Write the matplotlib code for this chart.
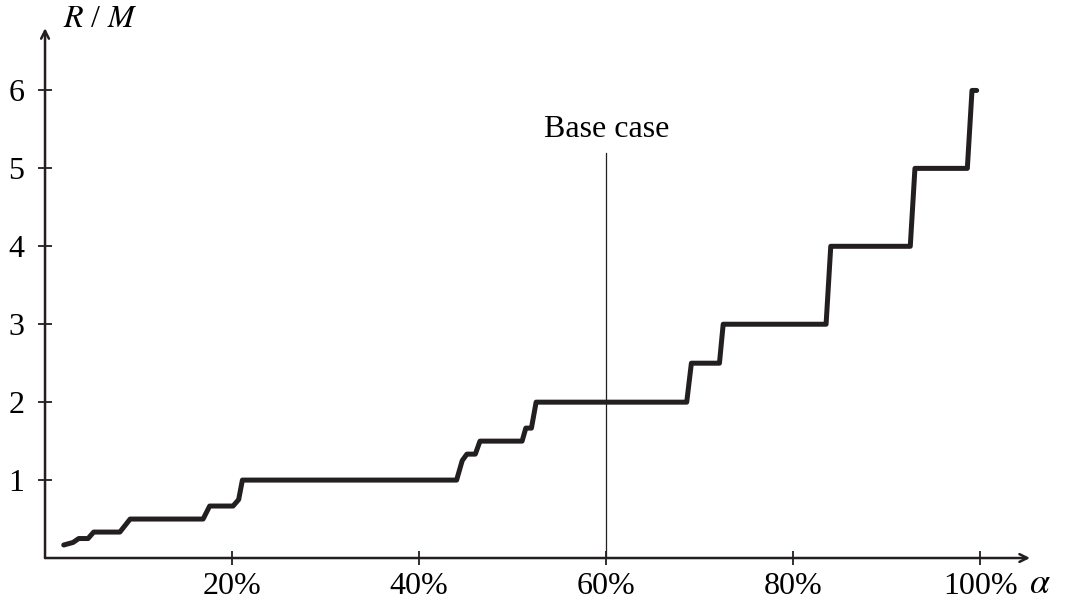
import matplotlib.pyplot as plt

plt.rcParams['font.family'] = ['Liberation Serif', 'DejaVu Serif']
plt.rcParams['mathtext.fontset'] = 'stix'

# step curve (alpha in %, R/M)
alpha = [2.0, 3.0, 3.6, 4.6, 5.2, 8.0, 9.1, 16.9, 17.6, 20.1, 20.7, 21.1,
         44.0, 44.6, 45.1, 46.0, 46.5, 51.0, 51.4, 52.0, 52.5,
         68.6, 69.1, 72.1, 72.5, 83.5, 84.0, 92.5, 93.0, 98.6, 99.1, 99.6]
ratio = [0.167, 0.2, 0.25, 0.25, 0.333, 0.333, 0.5, 0.5, 0.667, 0.667, 0.75, 1.0,
         1.0, 1.25, 1.333, 1.333, 1.5, 1.5, 1.667, 1.667, 2.0,
         2.0, 2.5, 2.5, 3.0, 3.0, 4.0, 4.0, 5.0, 5.0, 6.0, 6.0]

base_case = 60
x_ticks = [20, 40, 60, 80, 100]
y_ticks = [1, 2, 3, 4, 5, 6]

fig = plt.figure(figsize=(10.8, 6.07), dpi=100)
ax = fig.add_axes([0.0417, 0.0807, 0.912, 0.873])

ax.plot(alpha, ratio, color='#231f20', lw=3.6, solid_joinstyle='round',
        solid_capstyle='round')
ax.plot([base_case, base_case], [0, 5.2], color='#231f20', lw=0.9)
ax.text(base_case, 5.5, 'Base case', ha='center', va='center', fontsize=23)

ax.set_xlim(0, 105.3)
ax.set_ylim(0, 6.8)

for s in ax.spines.values():
    s.set_visible(False)

# axes with arrow heads
ax.annotate('', xy=(1, 0), xytext=(0, 0), xycoords='axes fraction',
            arrowprops=dict(arrowstyle='->', lw=1.8, color='#231f20',
                            mutation_scale=14, shrinkA=0, shrinkB=0))
ax.annotate('', xy=(0, 1), xytext=(0, 0), xycoords='axes fraction',
            arrowprops=dict(arrowstyle='->', lw=1.8, color='#231f20',
                            mutation_scale=14, shrinkA=0, shrinkB=0))

ax.set_xticks(x_ticks)
ax.set_xticklabels([f'{t}%' for t in x_ticks])
ax.set_yticks(y_ticks)
ax.tick_params(direction='inout', length=10, width=1.3, color='#231f20',
               labelsize=23, pad=5)
ax.tick_params(axis='y', pad=10)

ax.text(0.999, -0.05, r'$\alpha$', transform=ax.transAxes, fontsize=26,
        ha='left', va='center')
ax.text(0.018, 1.016, r'$R$ / $M$', transform=ax.transAxes, fontsize=23,
        ha='left', va='center')

fig.savefig('out.png', dpi=100)
